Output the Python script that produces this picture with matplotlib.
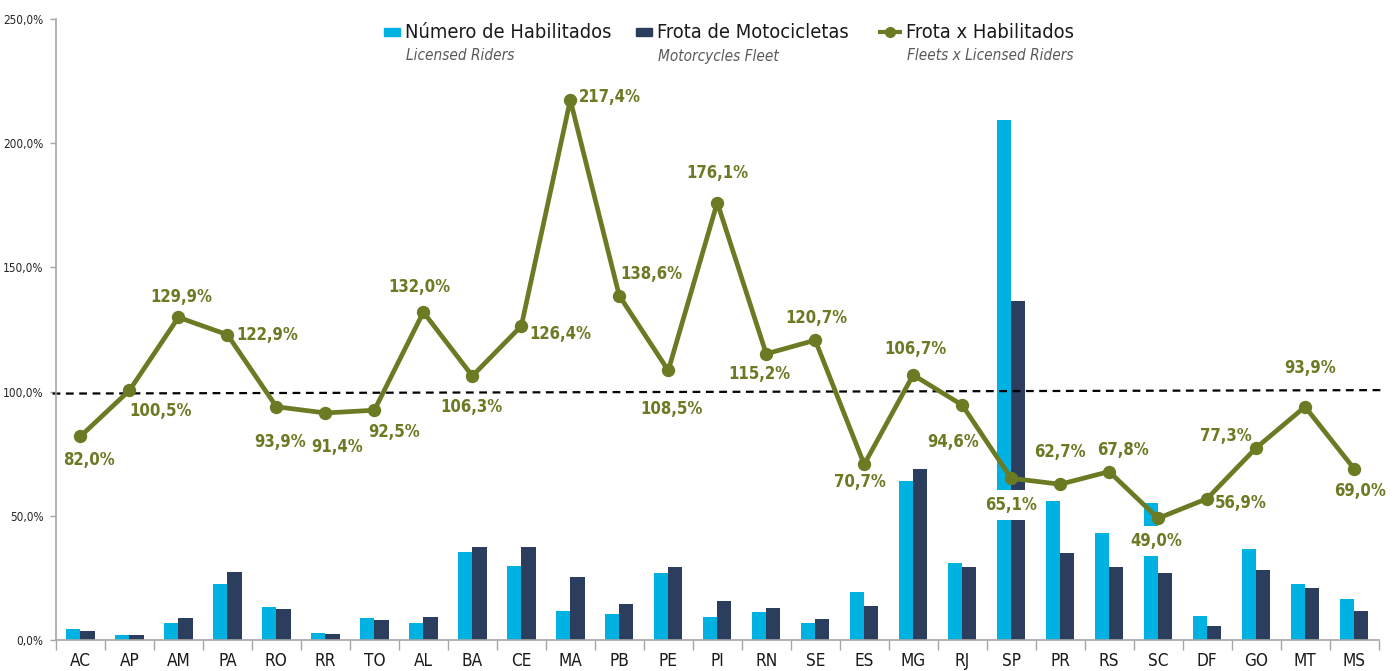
import matplotlib
matplotlib.use("agg")
import matplotlib.pyplot as plt
from matplotlib import font_manager as fm
from matplotlib.textpath import TextPath
from matplotlib.patches import Rectangle
from matplotlib.lines import Line2D
import numpy as np

states = ['AC', 'AP', 'AM', 'PA', 'RO', 'RR', 'TO', 'AL', 'BA', 'CE', 'MA', 'PB', 'PE', 'PI',
          'RN', 'SE', 'ES', 'MG', 'RJ', 'SP', 'PR', 'RS', 'SC', 'DF', 'GO', 'MT', 'MS']
habilitados = [4.4, 2.0, 6.8, 22.4, 13.3, 2.7, 8.7, 6.8, 35.4, 29.6, 11.7, 10.5, 26.9, 9.1,
               11.1, 6.8, 19.3, 64.0, 31.0, 209.5, 55.9, 43.2, 55.0, 9.7, 36.6, 22.5, 16.6]
frota = [3.6, 2.0, 8.8, 27.5, 12.3, 2.4, 7.9, 9.2, 37.4, 37.3, 25.3, 14.5, 29.2, 15.8,
         12.9, 8.3, 13.7, 68.8, 29.4, 136.5, 35.1, 29.2, 26.9, 5.6, 28.3, 21.0, 11.5]
frota_x_hab = [82.0, 100.5, 129.9, 122.9, 93.9, 91.4, 92.5, 132.0, 106.3, 126.4, 217.4, 138.6,
               108.5, 176.1, 115.2, 120.7, 70.7, 106.7, 94.6, 65.1, 62.7, 67.8, 49.0, 56.9,
               77.3, 93.9, 69.0]
ref_line = [99.2, 100.6]

# where each data label sits relative to its marker (pixels, y up)
label_offsets = [(9, -24), (31, -21), (3, 20), (40, 0), (4, -35), (12, -34), (20, -22),
                 (-4, 25), (-1, -31), (39, -8), (40, 3), (32, 22), (3, -39), (0, 30),
                 (-7, -20), (1, 22), (-4, -18), (2, 26), (-9, -37), (0, -27), (0, 32),
                 (14, 22), (-2, -23), (34, -4), (-30, 12), (5, 39), (6, -22)]

c_light = '#00b2e2'
c_dark = '#2c3e5e'
c_line = '#6b7b24'
c_axis = '#a6a6a6'


# look for a narrow face (Arial Narrow look); fall back to Liberation Sans
def is_bold(w):
    if isinstance(w, str):
        return w in ('bold', 'heavy', 'black', 'extra bold', 'demibold', 'semibold')
    return w >= 600


def narrow_font(bold=False, italic=False):
    cands = [f for f in fm.fontManager.ttflist
             if ('Narrow' in f.name or 'ondensed' in f.fname or f.stretch in ('condensed', 'semi-condensed'))
             and is_bold(f.weight) == bold and ((f.style != 'normal') == italic)
             and 'Mono' not in f.fname and 'Serif' not in f.fname]
    cands.sort(key=lambda f: (0 if 'Liberation' in f.fname else 1 if 'DejaVu' in f.fname else 2))
    if cands:
        return fm.FontProperties(fname=cands[0].fname)
    return fm.FontProperties(family='Liberation Sans', weight='bold' if bold else 'normal',
                             style='italic' if italic else 'normal')


fp_reg = narrow_font()
fp_bold = narrow_font(bold=True)
fp_ital = narrow_font(italic=True)

W, H = 1399, 671
fig = plt.figure(figsize=(W / 100, H / 100), dpi=100)
renderer = fig.canvas.get_renderer()


# font size from the width of a sample string and the height of its first glyph in the reference
def fit_size(fp, sample, width_px, cap_px, use_width=True):
    glyph_h = TextPath((0, 0), sample[0], size=10, prop=fp).get_extents().height * 100 / 72
    by_h = 10 * cap_px / glyph_h
    if not use_width:
        return by_h
    t = fig.text(0, 0, sample, fontproperties=fp, fontsize=10)
    w = t.get_window_extent(renderer).width
    t.remove()
    by_w = 10 * width_px / w
    return (by_w * by_h) ** 0.5


fs_label = fit_size(fp_bold, '217,4%', 58, 13.3)
fs_title = fit_size(fp_reg, 'Número de Habilitados', 201, 15)
fs_sub = fit_size(fp_ital, 'Fleets x Licensed Riders', 167, 11)
fs_xt = fit_size(fp_reg, 'AC', 20.7, 12.7)
fs_yt = fit_size(fp_reg, 'H', 0, 8.6, use_width=False)

ax = fig.add_axes([56 / W, 31 / H, (1378.5 - 56) / W, (640 - 19) / H])

x = np.arange(len(states))
bw = 0.29
ax.bar(x - bw / 2, habilitados, bw, color=c_light, zorder=2)
ax.bar(x + bw / 2, frota, bw, color=c_dark, zorder=2)

ax.plot(x, frota_x_hab, color=c_line, lw=3.4, marker='o', ms=8.6, zorder=5)
ax.plot([-0.57, 26.63], ref_line, color='black', lw=1.6, dashes=(3.5, 2.5), zorder=4.5, clip_on=False)

for xi, v, (dx, dy) in zip(x, frota_x_hab, label_offsets):
    ax.annotate(f"{v:.1f}%".replace('.', ','), (xi, v), xytext=(dx, dy), textcoords='offset pixels',
                ha='center', va='center', fontproperties=fp_bold, fontsize=fs_label,
                color=c_line, zorder=3,
                bbox=dict(boxstyle='square,pad=0.35', fc='white', ec='none'))

ax.set_xlim(-0.5, 26.5)
ax.set_ylim(0, 250)
ax.set_yticks(np.arange(0, 251, 50))
ax.set_yticklabels([f"{t:.1f}%".replace('.', ',') for t in np.arange(0, 251, 50)],
                   fontproperties=fp_reg, fontsize=fs_yt, color='#262626')
ax.tick_params(axis='y', colors=c_axis, labelcolor='#262626', length=4, width=1, pad=5)
ax.set_xticks(x)
ax.set_xticklabels(states, fontproperties=fp_reg, fontsize=fs_xt, color='#1a1a1a')
ax.set_xticks(np.arange(-0.5, 27, 1), minor=True)
ax.tick_params(axis='x', which='major', length=0, pad=9)
ax.tick_params(axis='x', which='minor', length=7, width=1, colors=c_axis)
for s in ['top', 'right']:
    ax.spines[s].set_visible(False)
for s in ['left', 'bottom']:
    ax.spines[s].set_color(c_axis)
    ax.spines[s].set_linewidth(1.2)
    ax.spines[s].set_zorder(6)


# legend drawn by hand: title line plus italic subtitle
def fx(px):
    return px / W


def fy(py):
    return 1 - py / H


entries = [('Número de Habilitados', 'Licensed Riders', 384, 'patch', c_light),
           ('Frota de Motocicletas', 'Motorcycles Fleet', 636, 'patch', c_dark),
           ('Frota x Habilitados', 'Fleets x Licensed Riders', 880, 'line', c_line)]
for title, sub, px, kind, col in entries:
    if kind == 'patch':
        fig.add_artist(Rectangle((fx(px), fy(36)), 16 / W, 8 / H, color=col, transform=fig.transFigure))
        tx = px + 21
    else:
        fig.add_artist(Line2D([fx(px), fx(px + 20)], [fy(32), fy(32)], color=col, lw=3,
                              transform=fig.transFigure))
        fig.add_artist(Line2D([fx(px + 10)], [fy(32)], color=col, marker='o', ms=7,
                              transform=fig.transFigure))
        tx = px + 26
    fig.text(fx(tx), fy(32), title, fontproperties=fp_reg, fontsize=fs_title, color='#1a1a1a',
             ha='left', va='center')
    fig.text(fx(tx + 1), fy(56), sub, fontproperties=fp_ital, fontsize=fs_sub,
             color='#595959', ha='left', va='center')

fig.savefig('out.png', dpi=100)
